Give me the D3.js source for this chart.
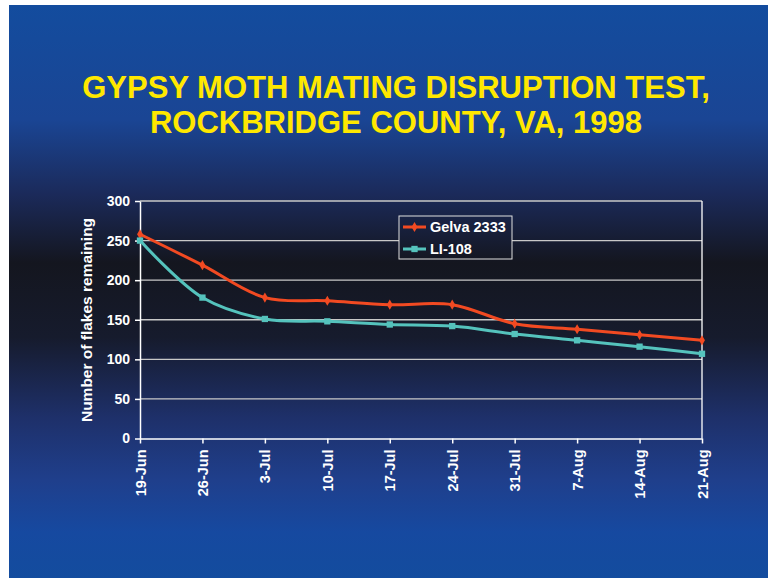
<!DOCTYPE html>
<html>
  <head>
    <meta charset="utf-8" />
    <script src="https://d3js.org/d3.v7.min.js"></script>
    <style>
      body { margin: 0; background: #fff; }
      text { font-family: "Liberation Sans", Arial, sans-serif; font-weight: bold; }
    </style>
  </head>
  <body>
    <svg id="chart" width="768" height="578"></svg>
    <script>
      var dates = ["19-Jun", "26-Jun", "3-Jul", "10-Jul", "17-Jul", "24-Jul", "31-Jul", "7-Aug", "14-Aug", "21-Aug"];
      var gelva = [258, 219, 178, 174, 169, 169, 145, 138, 131, 124];
      var li108 = [250, 178, 151, 148, 144, 142, 132, 124, 116, 107];
      var yTicks = [0, 50, 100, 150, 200, 250, 300];
      var titleLines = ["GYPSY MOTH MATING DISRUPTION TEST,", "ROCKBRIDGE COUNTY, VA, 1998"];

      var svg = d3.select("#chart");

      // slide background
      var defs = svg.append("defs");
      var grad = defs.append("linearGradient")
        .attr("id", "bg")
        .attr("gradientUnits", "userSpaceOnUse")
        .attr("x1", 0).attr("y1", 5).attr("x2", 0).attr("y2", 578);
      [[0, "#134c9e"], [0.2, "#1a4594"], [0.33, "#1b2a5a"], [0.45, "#14161f"],
       [0.58, "#161b2d"], [0.72, "#1e306a"], [0.83, "#1f3f8c"], [0.92, "#1649a0"], [1, "#134c9e"]]
        .forEach(function(s) {
          grad.append("stop").attr("offset", s[0]).attr("stop-color", s[1]);
        });

      svg.append("rect")
        .attr("x", 9).attr("y", 5)
        .attr("width", 759).attr("height", 573)
        .attr("fill", "url(#bg)");

      svg.selectAll(".title")
        .data(titleLines)
        .enter().append("text")
        .attr("class", "title")
        .attr("x", 396)
        .attr("y", function(d, i) { return 98 + i * 35; })
        .attr("text-anchor", "middle")
        .attr("font-size", 31)
        .attr("fill", "#ffe800")
        .text(function(d) { return d; });

      var plotL = 140, plotR = 702, plotT = 201, plotB = 438.5;

      var x = d3.scalePoint().domain(dates).range([plotL, plotR]);
      var y = d3.scaleLinear().domain([0, 300]).range([plotB, plotT]);

      // gridlines
      svg.selectAll(".grid")
        .data(yTicks.slice(1))
        .enter().append("line")
        .attr("class", "grid")
        .attr("x1", plotL).attr("x2", plotR)
        .attr("y1", function(d) { return y(d); })
        .attr("y2", function(d) { return y(d); })
        .attr("stroke", "#c8c8c8")
        .attr("stroke-width", 1.3);

      // right border of plot
      svg.append("line")
        .attr("x1", plotR).attr("x2", plotR)
        .attr("y1", plotT).attr("y2", plotB)
        .attr("stroke", "#ffffff").attr("stroke-width", 1.3);

      var yAxis = svg.append("g")
        .attr("transform", "translate(" + plotL + ",0)")
        .call(d3.axisLeft(y).tickValues(yTicks).tickSize(5).tickSizeOuter(0).tickPadding(5));
      yAxis.selectAll("text").attr("font-size", 14).attr("fill", "#fff")
        .attr("font-family", "Liberation Sans, Arial, sans-serif").attr("font-weight", "bold");

      var xAxis = svg.append("g")
        .attr("transform", "translate(0," + plotB + ")")
        .call(d3.axisBottom(x).tickSize(5).tickSizeOuter(0));
      xAxis.selectAll("text")
        .attr("font-size", 14.5).attr("fill", "#fff")
        .attr("font-family", "Liberation Sans, Arial, sans-serif").attr("font-weight", "bold")
        .attr("transform", "rotate(-90)")
        .attr("text-anchor", "end")
        .attr("x", -11).attr("y", 0).attr("dy", "0.35em");

      [yAxis, xAxis].forEach(function(a) {
        a.selectAll("line, path").attr("stroke", "#fff").attr("stroke-width", 1.5);
      });

      svg.append("text")
        .attr("transform", "translate(92,320) rotate(-90)")
        .attr("text-anchor", "middle")
        .attr("font-size", 15.5)
        .attr("fill", "#fff")
        .text("Number of flakes remaining");

      var line = d3.line()
        .x(function(d, i) { return x(dates[i]); })
        .y(function(d) { return y(d); })
        .curve(d3.curveCatmullRom.alpha(0.5));

      var series = [
        { name: "Gelva 2333", values: gelva, color: "#f24a22", marker: d3.symbolDiamond, size: 30 },
        { name: "LI-108", values: li108, color: "#55c3bd", marker: d3.symbolSquare, size: 40 }
      ];

      series.forEach(function(s) {
        svg.append("path")
          .attr("d", line(s.values))
          .attr("fill", "none")
          .attr("stroke", s.color)
          .attr("stroke-width", 3);
        svg.selectAll(null)
          .data(s.values)
          .enter().append("path")
          .attr("transform", function(d, i) { return "translate(" + x(dates[i]) + "," + y(d) + ")"; })
          .attr("d", d3.symbol().type(s.marker).size(s.size))
          .attr("fill", s.color);
      });

      // legend box drawn in slide coords so the gradient lines up
      svg.append("rect")
        .attr("x", 399).attr("y", 216)
        .attr("width", 113).attr("height", 43)
        .attr("fill", "url(#bg)")
        .attr("stroke", "#e0e0e0").attr("stroke-width", 1);
      var lg = svg.append("g").attr("transform", "translate(399,216)");

      series.forEach(function(s, i) {
        var ly = 11 + i * 22;
        lg.append("line")
          .attr("x1", 4).attr("x2", 27)
          .attr("y1", ly).attr("y2", ly)
          .attr("stroke", s.color).attr("stroke-width", 3);
        lg.append("path")
          .attr("transform", "translate(15.5," + ly + ")")
          .attr("d", d3.symbol().type(s.marker).size(s.size))
          .attr("fill", s.color);
        lg.append("text")
          .attr("x", 31).attr("y", ly).attr("dy", "0.36em")
          .attr("font-size", 14.5).attr("fill", "#fff")
          .text(s.name);
      });
    </script>
  </body>
</html>
